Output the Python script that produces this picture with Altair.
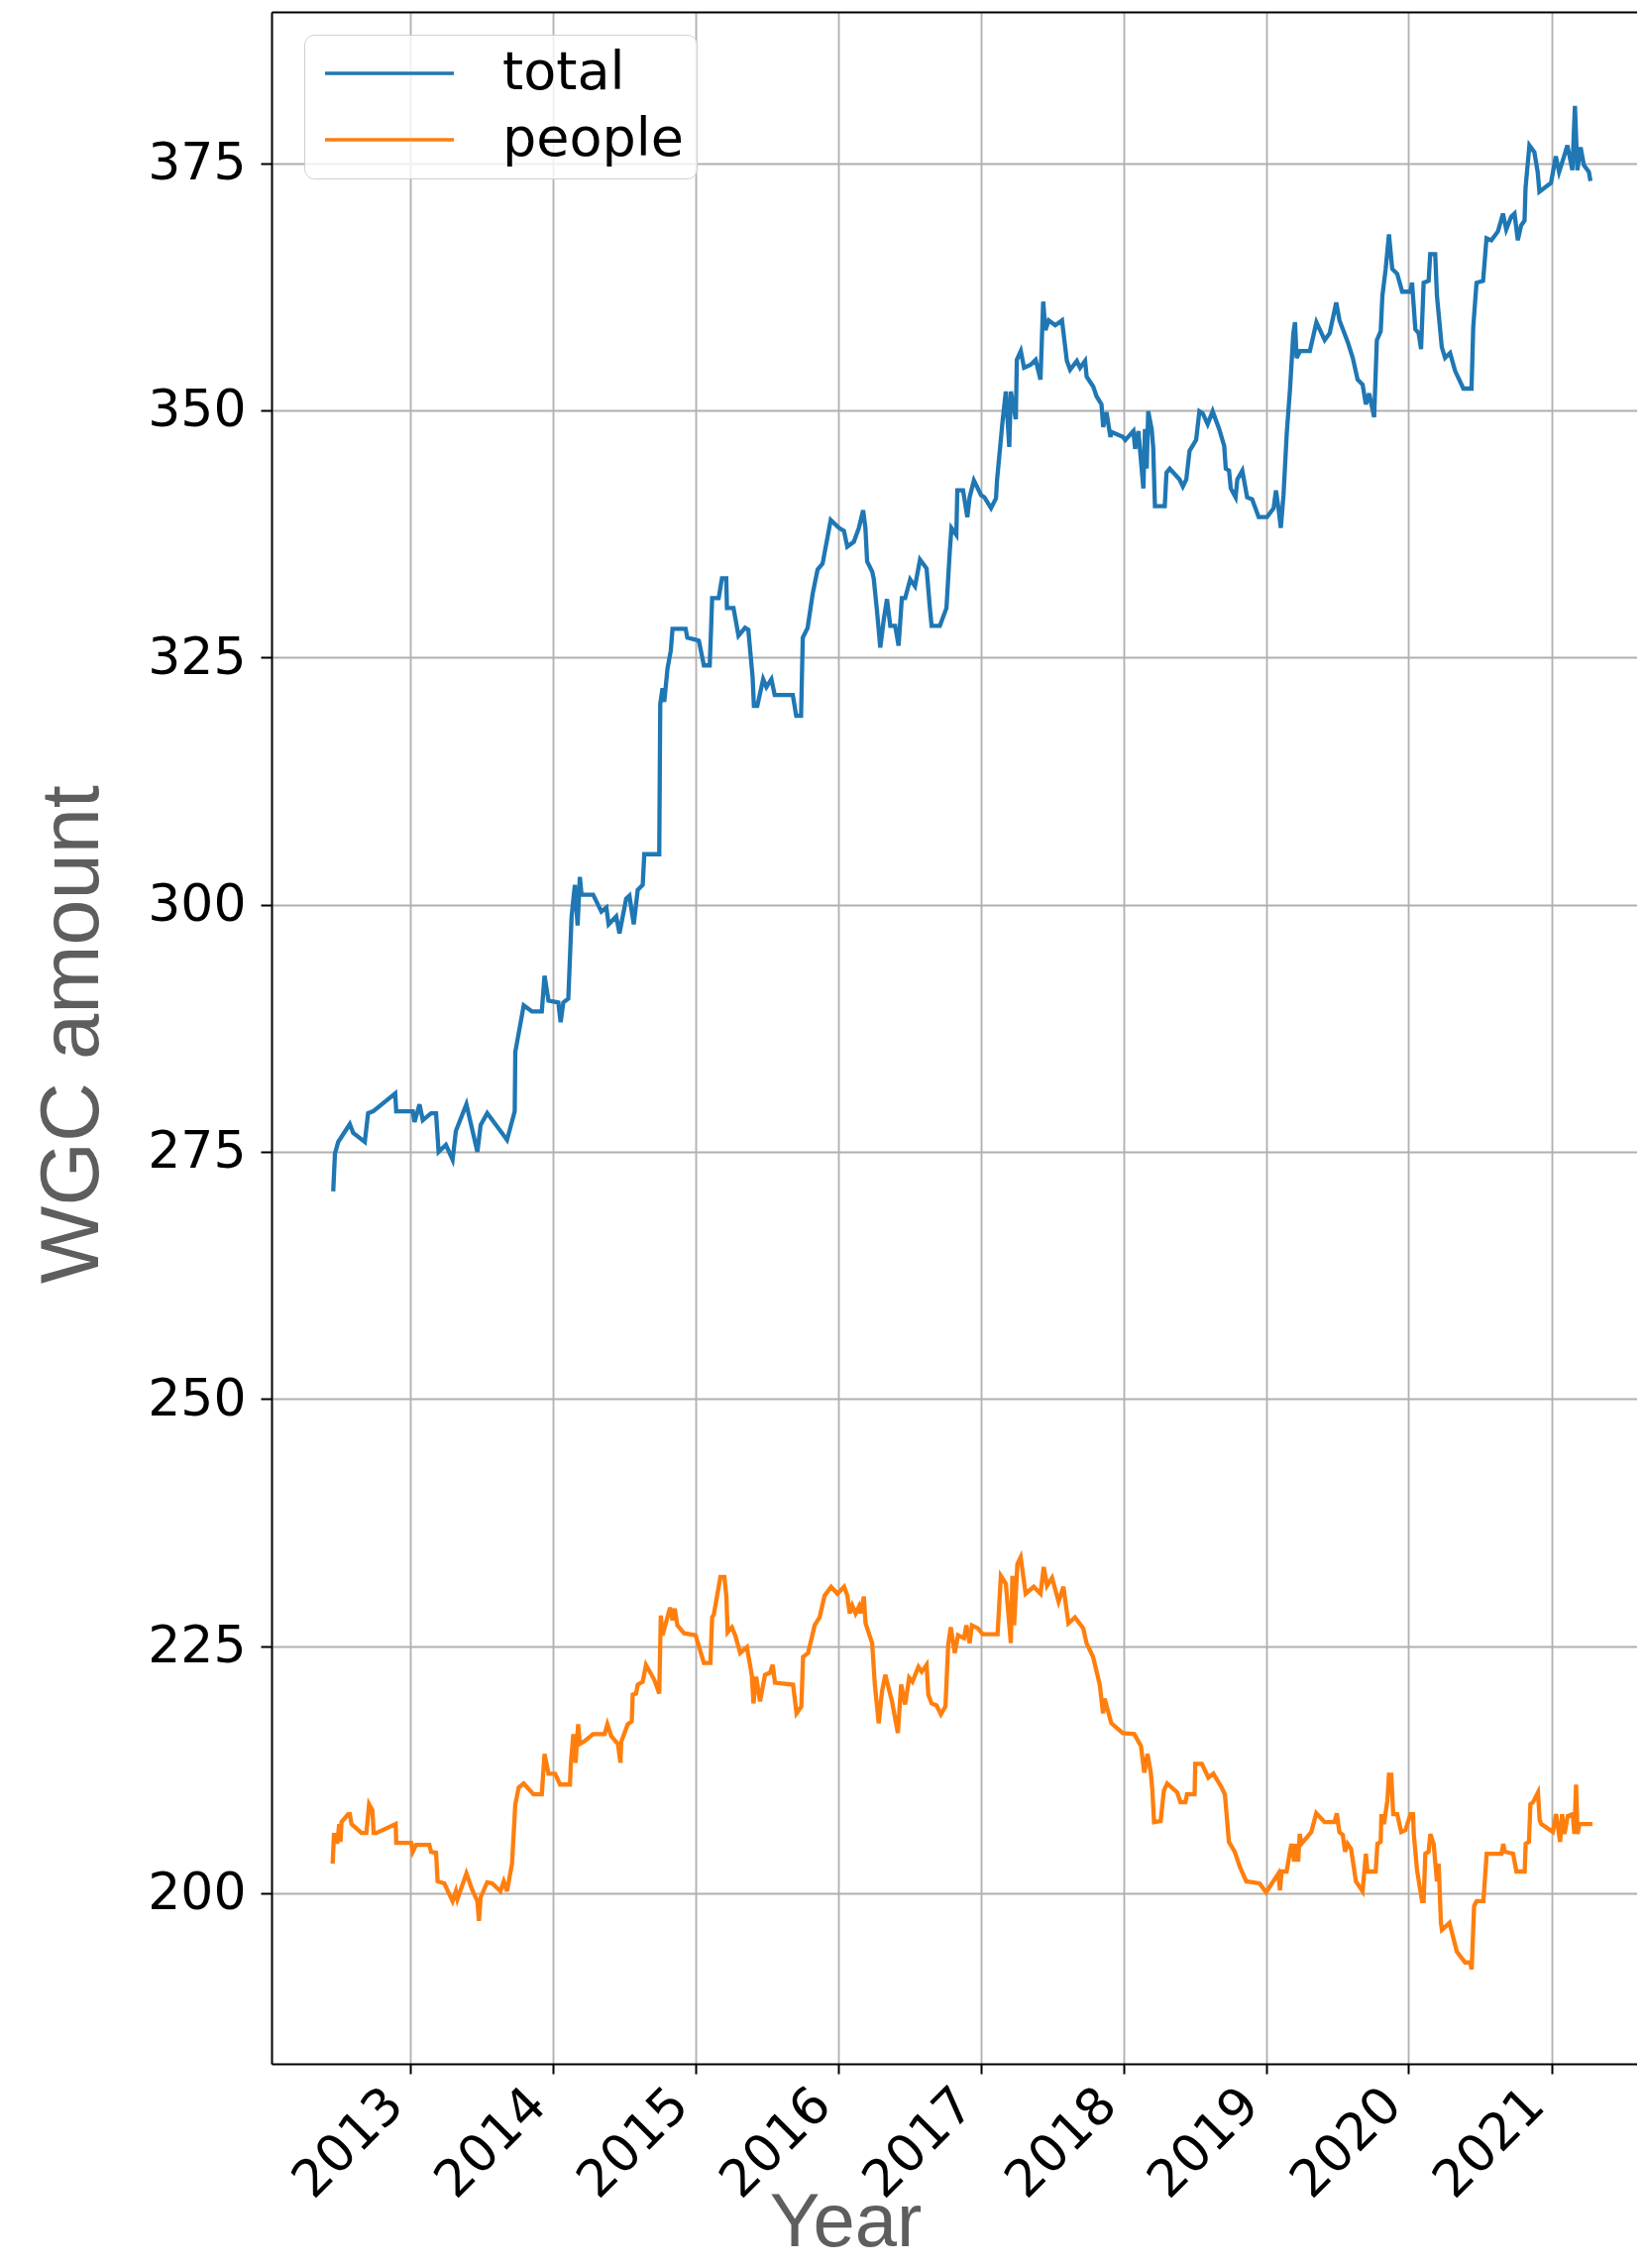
import altair as alt
import pandas as pd

# ---- data (decimal year, value) ----
total_years = [
    2012.459, 2012.471, 2012.494, 2012.575, 2012.599, 2012.680, 2012.703, 2012.738, 2012.893, 2012.900,
    2013.016, 2013.028, 2013.063, 2013.086, 2013.144, 2013.179, 2013.197, 2013.248, 2013.295, 2013.318,
    2013.392, 2013.469, 2013.492, 2013.538, 2013.631, 2013.677, 2013.731, 2013.735, 2013.794, 2013.852,
    2013.921, 2013.940, 2013.968, 2014.037, 2014.053, 2014.072, 2014.107, 2014.130, 2014.153, 2014.172,
    2014.188, 2014.200, 2014.281, 2014.339, 2014.374, 2014.390, 2014.443, 2014.466, 2014.513, 2014.536,
    2014.566, 2014.594, 2014.629, 2014.640, 2014.745, 2014.752, 2014.768, 2014.780, 2014.803, 2014.826,
    2014.838, 2014.930, 2014.942, 2015.000, 2015.023, 2015.058, 2015.099, 2015.109, 2015.116, 2015.162,
    2015.185, 2015.215, 2015.220, 2015.266, 2015.301, 2015.347, 2015.370, 2015.400, 2015.409, 2015.433,
    2015.474, 2015.497, 2015.532, 2015.555, 2015.682, 2015.706, 2015.740, 2015.752, 2015.786, 2015.821,
    2015.856, 2015.891, 2015.948, 2016.006, 2016.041, 2016.064, 2016.110, 2016.145, 2016.175, 2016.191,
    2016.203, 2016.238, 2016.249, 2016.272, 2016.295, 2016.319, 2016.342, 2016.365, 2016.399, 2016.423,
    2016.446, 2016.469, 2016.504, 2016.538, 2016.573, 2016.619, 2016.642, 2016.654, 2016.712, 2016.758,
    2016.781, 2016.793, 2016.827, 2016.834, 2016.874, 2016.904, 2016.920, 2016.950, 2017.001, 2017.024,
    2017.070, 2017.105, 2017.112, 2017.151, 2017.174, 2017.198, 2017.209, 2017.244, 2017.251, 2017.279,
    2017.302, 2017.348, 2017.383, 2017.417, 2017.436, 2017.452, 2017.475, 2017.521, 2017.568, 2017.602,
    2017.625, 2017.672, 2017.695, 2017.730, 2017.741, 2017.787, 2017.811, 2017.845, 2017.857, 2017.880,
    2017.908, 2017.915, 2017.996, 2018.012, 2018.069, 2018.081, 2018.104, 2018.139, 2018.150, 2018.162,
    2018.173, 2018.197, 2018.208, 2018.220, 2018.289, 2018.301, 2018.324, 2018.393, 2018.416, 2018.440,
    2018.463, 2018.509, 2018.532, 2018.555, 2018.590, 2018.625, 2018.671, 2018.706, 2018.717, 2018.740,
    2018.752, 2018.786, 2018.798, 2018.833, 2018.867, 2018.902, 2018.948, 2019.006, 2019.053, 2019.069,
    2019.087, 2019.103, 2019.122, 2019.145, 2019.168, 2019.191, 2019.203, 2019.214, 2019.238, 2019.307,
    2019.353, 2019.411, 2019.446, 2019.492, 2019.515, 2019.573, 2019.608, 2019.642, 2019.677, 2019.700,
    2019.723, 2019.758, 2019.777, 2019.804, 2019.816, 2019.839, 2019.862, 2019.885, 2019.920, 2019.955,
    2020.012, 2020.024, 2020.047, 2020.070, 2020.087, 2020.105, 2020.140, 2020.151, 2020.186, 2020.198,
    2020.232, 2020.255, 2020.290, 2020.325, 2020.383, 2020.440, 2020.452, 2020.475, 2020.521, 2020.545,
    2020.579, 2020.625, 2020.660, 2020.683, 2020.718, 2020.741, 2020.764, 2020.787, 2020.811, 2020.818,
    2020.845, 2020.880, 2020.903, 2020.915, 2020.996, 2021.030, 2021.053, 2021.088, 2021.111, 2021.146,
    2021.164, 2021.181, 2021.204, 2021.227, 2021.262, 2021.273,
]
total_values = [
    271.0, 274.8, 276.0, 277.8, 276.9, 276.0, 278.9, 279.1, 280.9, 279.1,
    279.1, 278.0, 279.8, 278.2, 278.9, 278.9, 275.0, 275.7, 274.2, 277.1,
    279.8, 275.0, 277.7, 278.9, 277.1, 276.2, 279.1, 285.1, 289.8, 289.2,
    289.2, 292.8, 290.3, 290.1, 288.1, 290.1, 290.5, 298.8, 302.0, 297.9,
    302.8, 301.0, 301.0, 299.3, 299.7, 298.0, 298.8, 297.1, 300.6, 300.9,
    298.0, 301.5, 302.0, 305.1, 305.1, 320.3, 321.9, 320.5, 323.9, 325.7,
    327.9, 327.9, 327.0, 326.8, 326.7, 324.2, 324.2, 328.0, 331.0, 331.0,
    333.0, 333.0, 330.0, 330.0, 327.2, 328.0, 327.8, 323.0, 320.1, 320.1,
    322.8, 322.0, 322.8, 321.2, 321.2, 319.1, 319.1, 327.0, 328.0, 331.4,
    333.9, 334.5, 338.9, 338.1, 337.8, 336.2, 336.7, 338.1, 339.9, 338.1,
    334.7, 333.7, 333.0, 329.7, 326.0, 328.8, 330.9, 328.2, 328.2, 326.2,
    331.0, 331.0, 332.9, 332.2, 334.9, 334.0, 330.0, 328.2, 328.2, 330.0,
    335.7, 338.1, 337.4, 341.9, 341.9, 339.2, 341.2, 342.9, 341.4, 341.2,
    340.1, 341.1, 342.9, 348.9, 351.9, 346.3, 351.9, 349.1, 355.1, 356.0,
    354.3, 354.6, 355.1, 353.1, 361.0, 358.1, 359.1, 358.6, 359.1, 355.0,
    354.1, 355.0, 354.3, 355.0, 353.4, 352.4, 351.4, 350.6, 348.3, 349.8,
    347.3, 347.8, 347.3, 347.0, 347.9, 346.1, 347.9, 342.1, 348.1, 344.1,
    349.9, 348.1, 346.2, 340.3, 340.3, 343.7, 344.1, 343.0, 342.3, 343.0,
    345.9, 347.0, 349.9, 349.7, 348.6, 349.9, 348.1, 346.4, 344.1, 343.9,
    342.1, 341.2, 343.0, 343.9, 341.2, 341.0, 339.2, 339.2, 340.1, 341.9,
    340.1, 338.1, 341.4, 347.7, 352.2, 357.8, 358.9, 355.3, 356.0, 356.0,
    358.9, 357.1, 357.8, 360.9, 359.1, 356.9, 355.3, 353.1, 352.6, 350.6,
    351.7, 349.3, 357.1, 358.0, 361.6, 364.3, 367.8, 364.3, 363.8, 362.0,
    362.0, 362.9, 358.2, 357.8, 356.2, 362.9, 363.1, 365.8, 365.8, 361.6,
    356.4, 355.3, 355.8, 354.0, 352.2, 352.2, 358.4, 362.9, 363.1, 367.4,
    367.2, 368.1, 369.9, 368.3, 369.6, 369.9, 367.2, 368.7, 369.2, 372.5,
    376.8, 376.1, 374.1, 372.1, 373.0, 375.7, 374.1, 375.7, 376.8, 374.3,
    380.8, 374.3, 376.6, 374.8, 374.1, 373.2,
]

people_years = [
    2012.455, 2012.464, 2012.483, 2012.487, 2012.501, 2012.510, 2012.517, 2012.564, 2012.575, 2012.587,
    2012.657, 2012.691, 2012.710, 2012.733, 2012.742, 2012.761, 2012.896, 2012.900, 2013.005, 2013.016,
    2013.039, 2013.132, 2013.144, 2013.179, 2013.190, 2013.237, 2013.295, 2013.318, 2013.329, 2013.392,
    2013.434, 2013.469, 2013.480, 2013.492, 2013.538, 2013.573, 2013.631, 2013.654, 2013.677, 2013.712,
    2013.735, 2013.759, 2013.794, 2013.863, 2013.921, 2013.940, 2013.968, 2014.014, 2014.049, 2014.118,
    2014.125, 2014.142, 2014.158, 2014.176, 2014.188, 2014.223, 2014.281, 2014.362, 2014.381, 2014.408,
    2014.455, 2014.473, 2014.478, 2014.524, 2014.552, 2014.559, 2014.582, 2014.594, 2014.629, 2014.652,
    2014.710, 2014.745, 2014.756, 2014.768, 2014.821, 2014.838, 2014.854, 2014.872, 2014.919, 2015.000,
    2015.058, 2015.104, 2015.116, 2015.128, 2015.174, 2015.202, 2015.216, 2015.225, 2015.255, 2015.278,
    2015.313, 2015.360, 2015.394, 2015.406, 2015.425, 2015.452, 2015.487, 2015.522, 2015.541, 2015.557,
    2015.684, 2015.708, 2015.742, 2015.754, 2015.789, 2015.824, 2015.835, 2015.870, 2015.905, 2015.951,
    2015.995, 2016.042, 2016.065, 2016.081, 2016.099, 2016.122, 2016.146, 2016.157, 2016.180, 2016.192,
    2016.238, 2016.257, 2016.284, 2016.307, 2016.330, 2016.377, 2016.418, 2016.441, 2016.469, 2016.497,
    2016.520, 2016.562, 2016.585, 2016.619, 2016.631, 2016.654, 2016.689, 2016.719, 2016.751, 2016.770,
    2016.788, 2016.816, 2016.839, 2016.881, 2016.897, 2016.920, 2016.936, 2016.978, 2017.012, 2017.116,
    2017.139, 2017.174, 2017.209, 2017.220, 2017.232, 2017.255, 2017.278, 2017.313, 2017.370, 2017.417,
    2017.440, 2017.463, 2017.498, 2017.544, 2017.578, 2017.613, 2017.659, 2017.717, 2017.740, 2017.786,
    2017.833, 2017.856, 2017.867, 2017.914, 2017.994, 2018.075, 2018.122, 2018.145, 2018.168, 2018.191,
    2018.202, 2018.214, 2018.260, 2018.283, 2018.306, 2018.376, 2018.399, 2018.434, 2018.445, 2018.498,
    2018.503, 2018.549, 2018.595, 2018.630, 2018.688, 2018.711, 2018.739, 2018.780, 2018.815, 2018.861,
    2018.954, 2019.000, 2019.086, 2019.097, 2019.109, 2019.144, 2019.167, 2019.178, 2019.197, 2019.206,
    2019.225, 2019.236, 2019.248, 2019.317, 2019.352, 2019.410, 2019.480, 2019.496, 2019.514, 2019.538,
    2019.554, 2019.572, 2019.596, 2019.630, 2019.677, 2019.700, 2019.711, 2019.769, 2019.781, 2019.804,
    2019.809, 2019.827, 2019.851, 2019.862, 2019.878, 2019.892, 2019.920, 2019.948, 2019.978, 2020.013,
    2020.031, 2020.036, 2020.059, 2020.094, 2020.105, 2020.117, 2020.140, 2020.152, 2020.175, 2020.198,
    2020.210, 2020.226, 2020.233, 2020.286, 2020.337, 2020.395, 2020.430, 2020.441, 2020.458, 2020.476,
    2020.523, 2020.546, 2020.650, 2020.662, 2020.673, 2020.731, 2020.754, 2020.812, 2020.819, 2020.842,
    2020.852, 2020.870, 2020.905, 2020.917, 2020.928, 2021.009, 2021.032, 2021.060, 2021.074, 2021.090,
    2021.114, 2021.148, 2021.160, 2021.172, 2021.183, 2021.195, 2021.287,
]
people_values = [
    203.0, 205.9, 205.9, 205.0, 207.0, 205.2, 207.2, 208.0, 208.0, 207.0,
    206.1, 206.1, 209.0, 208.4, 206.1, 206.1, 207.0, 205.1, 205.1, 204.2,
    204.9, 204.9, 204.2, 204.1, 201.2, 201.0, 199.2, 200.2, 199.4, 202.0,
    200.3, 199.2, 197.2, 199.6, 201.1, 201.0, 200.2, 201.2, 200.2, 203.0,
    209.0, 210.7, 211.1, 210.0, 210.0, 214.1, 212.1, 212.1, 211.0, 211.0,
    213.1, 216.1, 213.2, 217.1, 215.1, 215.4, 216.1, 216.1, 217.1, 215.9,
    215.1, 213.2, 215.3, 217.1, 217.4, 220.1, 220.2, 221.1, 221.4, 223.1,
    221.6, 220.2, 228.1, 226.1, 228.9, 227.6, 228.8, 227.1, 226.3, 226.1,
    223.3, 223.3, 227.9, 228.2, 232.0, 232.0, 230.0, 226.4, 226.9, 226.1,
    224.3, 224.9, 222.1, 219.2, 221.9, 219.4, 222.1, 222.3, 223.1, 221.3,
    221.1, 218.2, 218.9, 223.9, 224.3, 226.4, 227.1, 227.9, 230.1, 231.0,
    230.3, 231.0, 230.1, 228.3, 229.1, 228.3, 229.0, 228.3, 230.0, 227.3,
    225.3, 221.1, 217.2, 220.4, 222.1, 219.4, 216.2, 221.1, 219.1, 221.8,
    221.4, 222.9, 222.4, 223.1, 220.1, 219.2, 219.0, 218.1, 218.9, 225.1,
    226.9, 224.3, 226.1, 225.8, 227.1, 225.3, 227.1, 226.8, 226.2, 226.2,
    232.1, 231.3, 225.3, 232.1, 227.1, 233.3, 234.0, 230.3, 231.0, 230.3,
    233.0, 231.1, 231.9, 229.5, 231.0, 227.3, 227.9, 226.8, 225.3, 223.9,
    221.1, 218.2, 219.7, 217.2, 216.2, 216.1, 214.9, 212.2, 214.1, 212.2,
    210.4, 207.2, 207.3, 210.4, 211.1, 210.2, 209.2, 209.2, 210.0, 210.0,
    213.1, 213.1, 211.7, 212.1, 210.7, 210.0, 205.2, 204.2, 202.7, 201.2,
    201.0, 200.1, 202.0, 200.3, 202.2, 202.2, 204.2, 205.0, 203.2, 205.0,
    203.2, 206.0, 205.0, 206.2, 208.1, 207.2, 207.2, 208.1, 206.2, 205.9,
    204.2, 205.0, 204.5, 201.2, 200.2, 204.0, 202.2, 202.2, 205.0, 205.2,
    208.0, 207.0, 209.4, 212.0, 212.0, 208.0, 208.0, 206.2, 206.4, 208.0,
    208.0, 206.0, 202.3, 199.2, 199.2, 204.0, 204.2, 206.0, 205.0, 201.2,
    203.0, 197.0, 196.3, 197.0, 194.1, 193.0, 193.0, 192.3, 198.7, 199.2,
    199.2, 204.0, 204.0, 205.0, 204.2, 204.0, 202.2, 202.2, 205.0, 205.2,
    209.0, 209.2, 210.2, 207.4, 207.0, 206.2, 208.0, 205.2, 208.0, 206.0,
    207.8, 208.0, 206.0, 211.0, 206.0, 207.0, 207.0,
]

series_names = ["total", "people"]
series_colors = ["#1f77b4", "#ff7f0e"]
y_ticks = [200, 225, 250, 275, 300, 325, 350, 375]
x_tick_years = list(range(2013, 2022))


def to_date(y):
    yr = int(y)
    start = pd.Timestamp(year=yr, month=1, day=1)
    days = (pd.Timestamp(year=yr + 1, month=1, day=1) - start).days
    return (start + pd.Timedelta(days=(y - yr) * days)).strftime("%Y-%m-%dT%H:%M:%S")


rows = []
for name, ys, vs in [("total", total_years, total_values), ("people", people_years, people_values)]:
    for y, v in zip(ys, vs):
        rows.append({"date": to_date(y), "value": v, "series": name})
df = pd.DataFrame(rows)

x_scale = alt.Scale(domain=[alt.DateTime(year=2012, month=1, date=11),
                            alt.DateTime(year=2021, month=8, date=8)], nice=False)
y_scale = alt.Scale(domain=[182.75, 390.3], nice=False, zero=False)

y_axis = alt.Axis(
    values=y_ticks,
    labelFont="DejaVu Sans", labelFontSize=52, labelColor="black",
    labelPadding=15, tickSize=11, tickColor="black", tickWidth=2,
    domainColor="black", domainWidth=2,
    gridColor="#b0b0b0", gridWidth=1.8,
    title="WGC amount", titleFont="Liberation Sans", titleFontSize=83,
    titleFontWeight="normal", titleColor="#5e5e5e",
    titleAngle=270, titleX=-176, titleY=1031, titleAlign="center",
    titleBaseline="alphabetic",
)

lines = alt.Chart(df).mark_line(strokeWidth=4.3).encode(
    x=alt.X("date:T", scale=x_scale,
            axis=alt.Axis(
                values=[alt.DateTime(year=y, month=1, date=1) for y in x_tick_years],
                format="%Y", formatType="time",
                labelAngle=315, labelAlign="right", labelBaseline="top",
                labelFont="DejaVu Sans", labelFontSize=52, labelColor="black",
                labelPadding=5, labelOffset=-34, labelFlush=False, labelOverlap=False,
                labelBound=False,
                tickSize=10, tickColor="black", tickWidth=2,
                domainColor="black", domainWidth=2,
                gridColor="#b0b0b0", gridWidth=1.8,
                title="Year", titleFont="Liberation Sans", titleFontSize=76,
                titleFontWeight="normal", titleColor="#5e5e5e",
                titleX=579, titleY=183, titleAlign="center", titleBaseline="alphabetic",
            )),
    y=alt.Y("value:Q", scale=y_scale, axis=y_axis),
    color=alt.Color("series:N",
                    scale=alt.Scale(domain=series_names, range=series_colors),
                    legend=alt.Legend(
                        title=None, orient="none", legendX=33, legendY=23,
                        symbolType="M-5,0H5", symbolSize=676, symbolStrokeWidth=3.5,
                        symbolOffset=47, labelOffset=87,
                        labelFont="DejaVu Sans", labelFontSize=54, labelColor="black",
                        padding=12, rowPadding=13, labelLimit=400,
                        fillColor="rgba(255,255,255,0.8)", strokeColor="#cfcfcf",
                        cornerRadius=10,
                    )),
)

top_spine = alt.Chart(df).mark_line(opacity=0).encode(
    x=alt.X("date:T", scale=x_scale,
            axis=alt.Axis(orient="top", labels=False, ticks=False, grid=False,
                          domain=True, domainColor="black", domainWidth=2, title="")),
    y=alt.Y("value:Q", scale=y_scale, axis=y_axis),
)

chart = alt.layer(lines, top_spine).resolve_axis(x="independent").properties(
    width=1378, height=2070,
    autosize=alt.AutoSizeParams(type="none"),
    padding={"left": 266, "top": 4, "right": 0, "bottom": 198},
).configure_view(strokeWidth=0).configure(background="white")

chart.save("out.html", embed_options={"renderer": "svg", "actions": False})
